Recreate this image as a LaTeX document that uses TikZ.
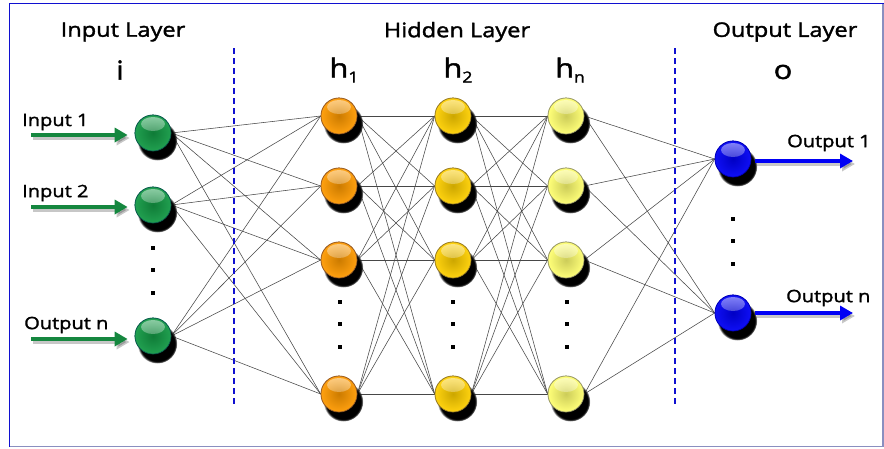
\documentclass[tikz,border=0pt]{standalone}
\usepackage{fontspec}
\newfontfamily\hand[FakeStretch=1.18,FakeBold=1.8]{Open Sans}
\usetikzlibrary{arrows.meta,shadows,fadings}

\definecolor{ingreen}{HTML}{139A45}
\definecolor{horange}{HTML}{FF9A00}
\definecolor{hyellow}{HTML}{FFD000}
\definecolor{hpale}{HTML}{FFFF70}
\definecolor{outblue}{HTML}{0000F5}
\definecolor{framedark}{HTML}{1010D0}
\definecolor{framelight}{HTML}{8A8FC0}
\definecolor{arrowgreen}{HTML}{15873F}

\tikzset{
  neuron/.style={circle, minimum size=36pt, inner sep=0pt,
    draw=#1!70!black!85!blue, line width=0.7pt,
    shading=radial, inner color=#1!80!black, outer color=#1!94!white,
    circular drop shadow={shadow xshift=4pt, shadow yshift=-7pt,
      opacity=1, shadow scale=1.1, fill=black},
    path picture={
      \fill[white, opacity=0.5, path fading=south]
        ([yshift=9pt]path picture bounding box.center) ellipse (12pt and 7pt);
    }},
  edge/.style={draw=black!72, line width=0.55pt},
  sep/.style={draw=framedark, line width=1.1pt, dash pattern=on 6pt off 4pt},
  dotmark/.style={rectangle, fill=black, minimum size=3.6pt, inner sep=0pt},
  headline/.style={font=\hand\fontsize{20}{24}\selectfont, inner sep=0pt},
  symbol/.style={font=\hand\fontsize{26}{30}\selectfont, inner sep=0pt},
  portlabel/.style={font=\hand\fontsize{17}{20}\selectfont, inner sep=0pt, anchor=west},
  inarrow/.style={draw=arrowgreen, line width=3.8pt,
    -{Triangle[length=13pt,width=14pt]}},
  outarrow/.style={draw=outblue, line width=3.8pt,
    -{Triangle[length=13pt,width=14pt]}},
  arrowshade/.style={draw=black, opacity=0.22, line width=3.8pt,
    -{Triangle[length=13pt,width=14pt]}},
}

\begin{document}
\begin{tikzpicture}[x=1pt,y=-1pt]
\useasboundingbox (0,0) rectangle (884,448);
\fill[white] (0,0) rectangle (884,448);

% frame
\draw[framelight, line width=1.2pt] (883,3.5) -- (883,446.5) -- (9.5,446.5);
\draw[framedark, line width=1.3pt] (9.5,446.5) -- (9.5,3.5) -- (884,3.5);

% neuron positions (first pass names them)
\node[neuron=ingreen] (i1) at (153,133) {};
\node[neuron=ingreen] (i2) at (153,205) {};
\node[neuron=ingreen] (i3) at (153,336) {};

\foreach \y [count=\k] in {116,186,260,394} {
  \node[neuron=horange] (a\k) at (339,\y) {};
  \node[neuron=hyellow] (b\k) at (453,\y) {};
  \node[neuron=hpale]   (c\k) at (566,\y) {};
}

\node[neuron=outblue] (o1) at (733,159) {};
\node[neuron=outblue] (o2) at (733,313) {};

% fully connected layers
\foreach \a in {i1,i2,i3}
  \foreach \b in {a1,a2,a3,a4}
    \draw[edge] (\a.east) -- (\b.west);
\foreach \a in {a1,a2,a3,a4}
  \foreach \b in {b1,b2,b3,b4}
    \draw[edge] (\a.east) -- (\b.west);
\foreach \a in {b1,b2,b3,b4}
  \foreach \b in {c1,c2,c3,c4}
    \draw[edge] (\a.east) -- (\b.west);
\foreach \a in {c1,c2,c3,c4}
  \foreach \b in {o1,o2}
    \draw[edge] (\a.east) -- (\b.west);

% neurons again, on top of the connections
\node[neuron=ingreen] at (i1) {};
\node[neuron=ingreen] at (i2) {};
\node[neuron=ingreen] at (i3) {};
\foreach \k in {1,2,3,4} {
  \node[neuron=horange] at (a\k) {};
  \node[neuron=hyellow] at (b\k) {};
  \node[neuron=hpale]   at (c\k) {};
}
\node[neuron=outblue] at (o1) {};
\node[neuron=outblue] at (o2) {};

% layer separators
\coordinate (s1t) at (234,48);  \coordinate (s1b) at (234,404);
\coordinate (s2t) at (675,48);  \coordinate (s2b) at (675,404);
\draw[sep] (s1t) -- (s1b);
\draw[sep] (s2t) -- (s2b);

% ellipsis dots
\foreach \y [count=\k] in {248,270,293} {
  \node[dotmark] (di\k) at (153,\y) {};
  \node[dotmark] (do\k) at (733,\y-29) {};
}
\foreach \y [count=\k] in {302,324,347} {
  \node[dotmark] (da\k) at (340,\y) {};
  \node[dotmark] (db\k) at (453,\y) {};
  \node[dotmark] (dc\k) at (567,\y) {};
}

% headings
\node[headline] (tin)  at (123,32) {Input Layer};
\node[headline] (thid) at (457,32) {Hidden Layer};
\node[headline] (tout) at (785,32) {Output Layer};

\node[symbol] (si) at (120,70) {i};
\node[symbol] (sh1) at (344,70) {h\raisebox{-5pt}{\fontsize{15}{17}\selectfont 1}};
\node[symbol] (sh2) at (458,70) {h\raisebox{-5pt}{\fontsize{15}{17}\selectfont 2}};
\node[symbol] (shn) at (570,70) {h\raisebox{-5pt}{\fontsize{15}{17}\selectfont n}};
\node[symbol] (so) at (783,72) {o};

% input arrows
\coordinate (in1) at (31,135);
\coordinate (in2) at (31,207);
\coordinate (in3) at (31,339);
\foreach \s/\n in {in1/i1,in2/i2,in3/i3} {
  \draw[arrowshade, shorten >=7pt, transform canvas={xshift=2pt,yshift=-3pt}]
    (\s) -- (\s -| \n.west);
  \draw[inarrow, shorten >=7pt] (\s) -- (\s -| \n.west);
}
\node[portlabel] (l1) at (22,122) {Input 1};
\node[portlabel] (l2) at (22,193) {Input 2};
\node[portlabel] (l3) at (24,325) {Output n};

% output arrows
\coordinate (out1) at (853,161);
\coordinate (out2) at (853,313);
\foreach \n/\e in {o1/out1,o2/out2} {
  \draw[arrowshade, transform canvas={xshift=2pt,yshift=-3pt}]
    ([xshift=4pt]\n.east |- \e) -- (\e);
  \draw[outarrow] ([xshift=4pt]\n.east |- \e) -- (\e);
}
\node[portlabel] (r1) at (787,143) {Output 1};
\node[portlabel] (r2) at (786,298) {Output n};
\end{tikzpicture}
\end{document}
